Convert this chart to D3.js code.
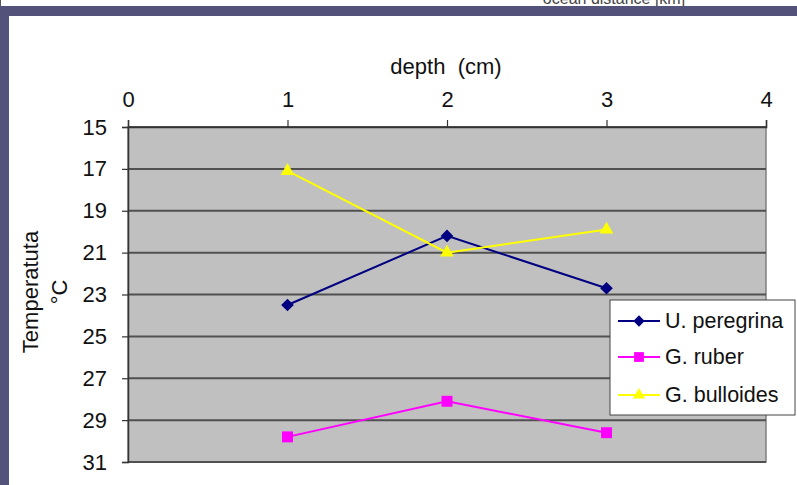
<!DOCTYPE html>
<html>
<head>
<meta charset="utf-8">
<script src="https://cdn.jsdelivr.net/npm/d3@7"></script>
<style>
  html, body { margin: 0; padding: 0; background: #fff; }
  svg { display: block; font-family: "Liberation Sans", Arial, sans-serif; }
</style>
</head>
<body>
<script>
// Depth positions (cm) and temperature readings per species
const depths = [1, 2, 3];
const seriesNames = ["U. peregrina", "G. ruber", "G. bulloides"];
const uPeregrina = [23.5, 20.2, 22.7];
const gRuber = [29.8, 28.1, 29.6];
const gBulloides = [17.1, 21.0, 19.9];
const xTicks = [0, 1, 2, 3, 4];
const yTicks = [15, 17, 19, 21, 23, 25, 27, 29, 31];

const W = 797, H = 485;
const svg = d3.select("body").append("svg").attr("width", W).attr("height", H);

// slide frame
svg.append("rect").attr("x", 0).attr("y", 0).attr("width", W).attr("height", H).attr("fill", "#fff");
svg.append("text").attr("x", 614).attr("y", 4).attr("text-anchor", "middle")
  .attr("font-size", 16).attr("fill", "#444").text("ocean distance [km]");
svg.append("rect").attr("x", 0).attr("y", 6).attr("width", W).attr("height", 10).attr("fill", "#52527a");
svg.append("rect").attr("x", 0).attr("y", 6).attr("width", 9).attr("height", H).attr("fill", "#52527a");
svg.append("line").attr("x1", 0.5).attr("x2", 0.5).attr("y1", 0).attr("y2", 6).attr("stroke", "#555");

const plot = { left: 128, right: 766, top: 127, bottom: 462 };
const x = d3.scaleLinear().domain([0, 4]).range([plot.left, plot.right]);
const y = d3.scaleLinear().domain([15, 31]).range([plot.top, plot.bottom]);

// plot area
svg.append("rect").attr("x", plot.left).attr("y", plot.top)
  .attr("width", plot.right - plot.left).attr("height", plot.bottom - plot.top)
  .attr("fill", "#c0c0c0").attr("stroke", "#808080").attr("stroke-width", 1.5);

// gridlines
svg.append("g").selectAll("line").data(yTicks).join("line")
  .attr("x1", plot.left).attr("x2", plot.right)
  .attr("y1", d => y(d)).attr("y2", d => y(d))
  .attr("stroke", "#505050").attr("stroke-width", 2);

// top x axis
const xAxis = svg.append("g").attr("transform", `translate(0,${plot.top})`)
  .call(d3.axisTop(x).tickValues(xTicks).tickSize(7).tickPadding(13).tickFormat(d3.format("d")));
xAxis.select(".domain").attr("stroke", "#333").attr("stroke-width", 1.5);
xAxis.selectAll(".tick line").attr("stroke", "#333").attr("stroke-width", 1.2);
xAxis.selectAll("text").attr("font-size", 22).attr("fill", "#111")
  .attr("font-family", "Liberation Sans, Arial, sans-serif");

// left y axis
const yAxis = svg.append("g").attr("transform", `translate(${plot.left},0)`)
  .call(d3.axisLeft(y).tickValues(yTicks).tickSize(6).tickPadding(15).tickFormat(d3.format("d")));
yAxis.select(".domain").attr("stroke", "#333").attr("stroke-width", 1.5);
yAxis.selectAll(".tick line").attr("stroke", "#333").attr("stroke-width", 1.2);
yAxis.selectAll("text").attr("font-size", 22).attr("fill", "#111")
  .attr("font-family", "Liberation Sans, Arial, sans-serif");

// axis titles
svg.append("text").attr("x", 446).attr("y", 74).attr("text-anchor", "middle")
  .attr("font-size", 22).attr("fill", "#111").attr("xml:space", "preserve").text("depth  (cm)");
const yt = svg.append("text").attr("transform", "translate(38,292) rotate(-90)")
  .attr("text-anchor", "middle").attr("font-size", 22).attr("fill", "#111");
yt.append("tspan").attr("x", 0).attr("dy", 0).text("Temperatuta");
yt.append("tspan").attr("x", 0).attr("dy", 29).text("°C");

const diamond = { draw(ctx, size) { const r = Math.sqrt(size / 2); ctx.moveTo(0, -r); ctx.lineTo(r, 0); ctx.lineTo(0, r); ctx.lineTo(-r, 0); ctx.closePath(); } };

const series = [
  { name: seriesNames[0], values: uPeregrina, color: "#000080", shape: diamond, size: 80 },
  { name: seriesNames[1], values: gRuber, color: "#ff00ff", shape: d3.symbolSquare, size: 120 },
  { name: seriesNames[2], values: gBulloides, color: "#ffff00", shape: d3.symbolTriangle, size: 80 }
];

const line = d3.line().x(d => x(d[0])).y(d => y(d[1]));
series.forEach(s => {
  const pts = depths.map((d, i) => [d, s.values[i]]);
  svg.append("path").datum(pts).attr("d", line).attr("fill", "none")
    .attr("stroke", s.color).attr("stroke-width", 2);
  svg.append("g").selectAll("path").data(pts).join("path")
    .attr("transform", d => `translate(${x(d[0])},${y(d[1])})`)
    .attr("d", d3.symbol().type(s.shape).size(s.size)).attr("fill", s.color);
});

// legend
const lg = svg.append("g");
lg.append("rect").attr("x", 610).attr("y", 300).attr("width", 185).attr("height", 115)
  .attr("fill", "#fff").attr("stroke", "#444").attr("stroke-width", 1);
const rowsY = [321, 357, 395];
series.forEach((s, i) => {
  const cy = rowsY[i];
  lg.append("line").attr("x1", 618).attr("x2", 660).attr("y1", cy).attr("y2", cy)
    .attr("stroke", s.color).attr("stroke-width", 2);
  lg.append("path").attr("transform", `translate(639,${cy})`)
    .attr("d", d3.symbol().type(s.shape).size(s.size * 0.8)).attr("fill", s.color);
  lg.append("text").attr("x", 665).attr("y", cy + 7).attr("font-size", 21.5)
    .attr("fill", "#111").text(s.name);
});
</script>
</body>
</html>
